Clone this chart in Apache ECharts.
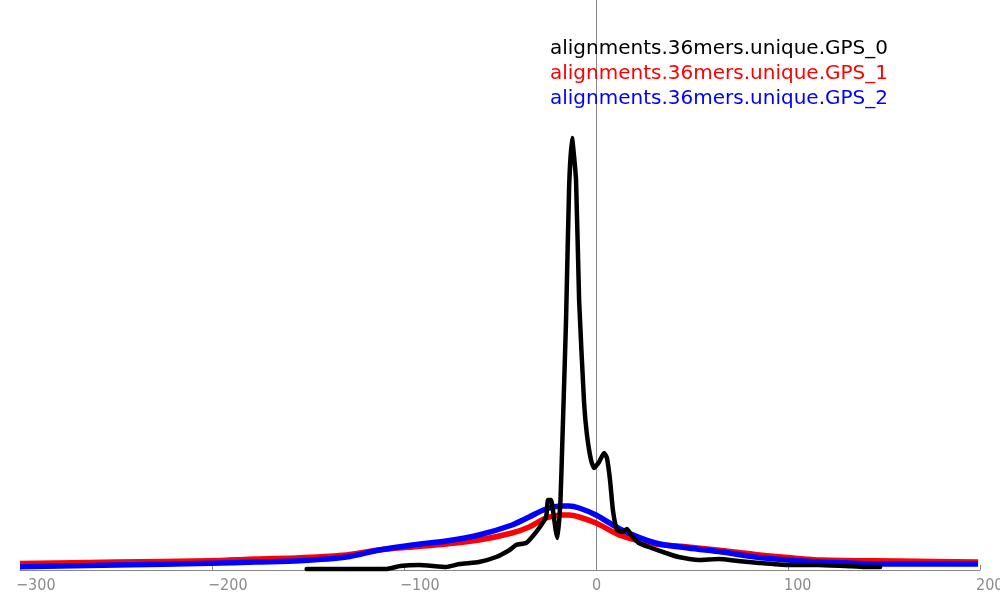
<!DOCTYPE html>
<html>
<head>
<meta charset="utf-8">
<script src="https://cdn.jsdelivr.net/npm/echarts@6/dist/echarts.min.js"></script>
<style>
html,body{margin:0;padding:0;background:#fff;}
#chart{width:1000px;height:600px;}
</style>
</head>
<body>
<div id="chart"></div>
<script>
// Series names
var seriesNames = ['alignments.36mers.unique.GPS_0', 'alignments.36mers.unique.GPS_1', 'alignments.36mers.unique.GPS_2'];
var seriesColors = ['#000000', '#ff0000', '#0000ff'];

// GPS_0 (black)
var gps0X = [-150.7, -130, -109, -102, -92, -78, -71, -61, -52, -45, -41.6, -36.4, -33.3, -29.6, -26, -25, -23.4, -22.3, -21, -20, -18.5, -17.5, -15.6, -14.0, -12.5, -10.4, -8.8, -6.2, -4.7, -2.6, -1.0, 1.6, 4.2, 5.7, 7.3, 8.8, 10.9, 13.5, 16.1, 18.7, 22.3, 27.5, 38, 43, 53.5, 64, 74, 85, 100, 116, 130, 140, 148];
var gps0Y = [1, 1, 1, 4, 5, 3, 6, 8, 13, 20, 25, 27, 33, 42, 53, 70, 70, 58, 40, 32, 70, 130, 250, 383, 432, 390, 270, 167, 135, 110, 102, 108, 117, 112, 90, 60, 40, 38, 41, 34, 27, 23, 16, 13, 10, 11, 9, 7, 5, 5, 4, 3, 3];

// GPS_1 (red)
var gps1X = [-300, -249.5, -201, -177, -154, -130, -113, -95.6, -78, -61, -43.7, -34.8, -26, -17.7, -14, -8.8, 0, 13.5, 31, 48, 65.5, 83, 100, 117.5, 157.5, 199];
var gps1Y = [6.5, 8, 9.3, 11, 12.3, 15, 20, 23, 26, 30, 37, 43, 52, 55, 55, 53, 47, 34, 26, 23, 19.5, 15.5, 12.5, 10, 9, 8];

// GPS_2 (blue)
var gps2X = [-300, -249.5, -201, -177, -154, -130, -113, -95.6, -78, -61, -43.7, -34.8, -26, -17.7, -14, -8.8, 0, 13.5, 31, 48, 65.5, 83, 100, 117.5, 157.5, 199];
var gps2Y = [3.3, 5, 6.7, 8, 9.3, 13, 20, 25, 29, 35, 45, 53, 61, 64, 64, 62, 55, 40, 27, 22, 18, 13, 10, 8, 6, 6];

// Axis
var xMin = -300, xMax = 200, xStep = 100;
var yMin = 0, yMax = 570;

function pairs(xs, ys) {
  return xs.map(function (x, i) { return [x, ys[i]]; });
}

var chart = echarts.init(document.getElementById('chart'), null, {renderer: 'canvas'});
var option = {
  animation: false,
  backgroundColor: '#ffffff',
  grid: {left: 20, right: 20, top: 0, bottom: 30, containLabel: false, outerBoundsMode: 'none'},
  legend: {
    orient: 'vertical',
    left: 540,
    top: 34,
    itemWidth: 0,
    itemHeight: 0,
    itemGap: 5,
    selectedMode: false,
    textStyle: {fontFamily: 'DejaVu Sans', fontSize: 20},
    data: seriesNames.map(function (n, i) {
      return {name: n, icon: 'none', textStyle: {color: seriesColors[i]}};
    })
  },
  xAxis: {
    type: 'value',
    min: xMin, max: xMax, interval: xStep,
    axisLine: {show: true, onZero: false, lineStyle: {color: '#888888', width: 1}},
    axisTick: {show: true, inside: true, length: 5, lineStyle: {color: '#888888'}},
    splitLine: {show: false},
    axisLabel: {
      color: '#8c8c8c', fontFamily: 'DejaVu Sans Condensed', fontSize: 16, margin: 8,
      align: 'left', padding: [0, 0, 0, -4],
      formatter: function (v) { return String(v).replace('-', '\u2212'); }
    }
  },
  yAxis: {
    type: 'value',
    min: yMin, max: yMax,
    axisLine: {show: true, onZero: true, lineStyle: {color: '#888888', width: 1}},
    axisTick: {show: false},
    axisLabel: {show: false},
    splitLine: {show: false}
  },
  series: [
    {
      name: seriesNames[0], type: 'line', data: pairs(gps0X, gps0Y),
      showSymbol: false, smooth: 0.15, z: 5,
      lineStyle: {color: seriesColors[0], width: 4.5, join: 'round', cap: 'round'},
      itemStyle: {color: seriesColors[0]}
    },
    {
      name: seriesNames[1], type: 'line', data: pairs(gps1X, gps1Y),
      showSymbol: false, smooth: 0.3, z: 3,
      lineStyle: {color: seriesColors[1], width: 5.5, join: 'round'},
      itemStyle: {color: seriesColors[1]}
    },
    {
      name: seriesNames[2], type: 'line', data: pairs(gps2X, gps2Y),
      showSymbol: false, smooth: 0.3, z: 4,
      lineStyle: {color: seriesColors[2], width: 5.5, join: 'round'},
      itemStyle: {color: seriesColors[2]}
    }
  ]
};
chart.setOption(option);
</script>
</body>
</html>
